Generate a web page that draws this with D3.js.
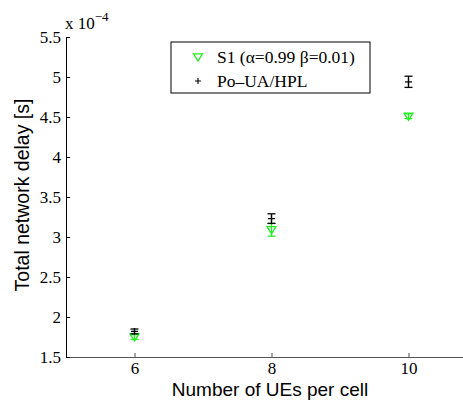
<!DOCTYPE html>
<html><head><meta charset="utf-8">
<script src="https://cdn.jsdelivr.net/npm/d3@7"></script>
<style>body{margin:0;background:#fff}svg{display:block}</style>
</head><body>
<script>
const categories = [6, 8, 10];
const s1Values = [1.75, 3.09, 4.51];
const s1Errors = [0.03, 0.08, 0.03];
const poValues = [1.82, 3.23, 4.94];
const poErrors = [0.03, 0.06, 0.07];
const yTicks = [1.5, 2, 2.5, 3, 3.5, 4, 4.5, 5, 5.5];
const xTicks = [6, 8, 10];
const seriesNames = ["S1 (\u03B1=0.99 \u03B2=0.01)", "Po\u2013UA/HPL"];

const W = 463, H = 400;
const svg = d3.select("body").append("svg").attr("width", W).attr("height", H);
const x = d3.scaleLinear().domain([5, 11]).range([66, 477]);
const y = d3.scaleLinear().domain([1.5, 5.5]).range([357, 37]);

const serif = "'Liberation Serif','Times New Roman',serif";
const sans = "'Liberation Sans',Arial,sans-serif";

// x axis
const xa = svg.append("g").attr("transform", `translate(0,${y(1.5)})`)
  .call(d3.axisBottom(x).tickValues(xTicks).tickSizeInner(-4).tickSizeOuter(0).tickPadding(5)
    .tickFormat(d3.format("d")));
xa.select(".domain").attr("stroke", "#555");
xa.selectAll(".tick line").attr("stroke", "#555");
xa.selectAll("text").attr("font-family", serif).attr("font-size", 17).attr("fill", "#000");

// y axis
const ya = svg.append("g").attr("transform", `translate(${x(5)},0)`)
  .call(d3.axisLeft(y).tickValues(yTicks).tickSizeInner(-4).tickSizeOuter(0).tickPadding(5)
    .tickFormat(d => String(d)));
ya.select(".domain").attr("stroke", "#000");
ya.selectAll("text").attr("font-family", serif).attr("font-size", 17).attr("fill", "#000");

// exponent
const ex = svg.append("text").attr("x", 65).attr("y", 29).attr("font-family", serif).attr("font-size", 17).attr("fill", "#000");
ex.append("tspan").text("x 10");
ex.append("tspan").attr("dy", -8).attr("font-size", 13).text("\u22124");

// labels
svg.append("text").attr("x", 270).attr("y", 396).attr("text-anchor", "middle")
  .attr("font-family", sans).attr("font-size", 19).text("Number of UEs per cell");
svg.append("text").attr("transform", `translate(29,195) rotate(-90)`).attr("text-anchor", "middle")
  .attr("font-family", sans).attr("font-size", 19.5).text("Total network delay [s]");

function errbar(vals, errs, color) {
  const g = svg.append("g").attr("stroke", color).attr("stroke-width", 1.3).attr("fill", "none");
  categories.forEach((c, i) => {
    const cx = x(c), y0 = y(vals[i] - errs[i]), y1 = y(vals[i] + errs[i]);
    g.append("line").attr("x1", cx).attr("x2", cx).attr("y1", y0).attr("y2", y1);
    g.append("line").attr("x1", cx - 4).attr("x2", cx + 4).attr("y1", y0).attr("y2", y0);
    g.append("line").attr("x1", cx - 4).attr("x2", cx + 4).attr("y1", y1).attr("y2", y1);
  });
}
const tri = (cx, cy, r) => `M${cx - r},${cy - r * 0.7}L${cx + r},${cy - r * 0.7}L${cx},${cy + r * 0.9}Z`;
const plus = (cx, cy, r) => `M${cx - r},${cy}L${cx + r},${cy}M${cx},${cy - r}L${cx},${cy + r}`;

errbar(s1Values, s1Errors, "#22ee22");
svg.append("g").selectAll("path").data(categories).join("path")
  .attr("d", (c, i) => tri(x(c), y(s1Values[i]), 4.5))
  .attr("fill", "none").attr("stroke", "#22ee22").attr("stroke-width", 1.3);

errbar(poValues, poErrors, "#000");
svg.append("g").selectAll("path").data(categories).join("path")
  .attr("d", (c, i) => plus(x(c), y(poValues[i]), 3.5))
  .attr("fill", "none").attr("stroke", "#000").attr("stroke-width", 1.2);

// legend
const lg = svg.append("g");
lg.append("rect").attr("x", 171).attr("y", 42).attr("width", 199).attr("height", 51)
  .attr("fill", "#fff").attr("stroke", "#000").attr("stroke-width", 1);
lg.append("path").attr("d", tri(198, 57, 4.5)).attr("fill", "none").attr("stroke", "#22ee22").attr("stroke-width", 1.3);
lg.append("path").attr("d", plus(198, 81, 3)).attr("fill", "none").attr("stroke", "#000").attr("stroke-width", 1.1);
lg.append("text").attr("x", 217).attr("y", 63).attr("font-family", serif).attr("font-size", 17.5).text(seriesNames[0]);
lg.append("text").attr("x", 217).attr("y", 87).attr("font-family", serif).attr("font-size", 17.5).text(seriesNames[1]);
</script>
</body></html>
